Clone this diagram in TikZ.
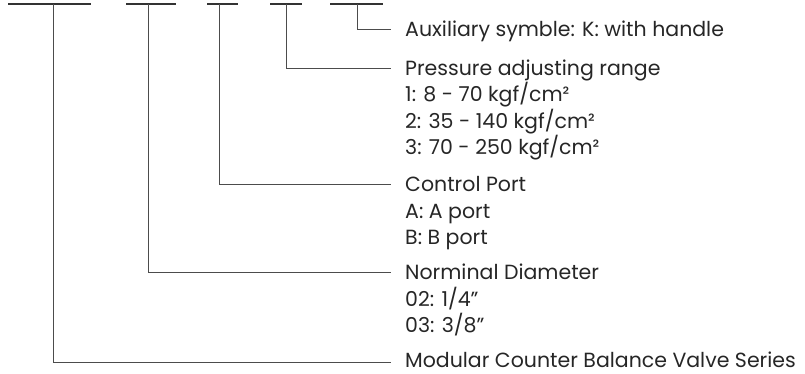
\documentclass[tikz,border=0pt]{standalone}
\usepackage{fontspec}
\setmainfont{Poppins}
\begin{document}
\begin{tikzpicture}[x=1pt,y=-1pt,
  bar/.style={draw=black!80, line width=1.6pt},
  leader/.style={draw=black!70, line width=0.9pt},
  lbl/.style={anchor=base west, inner sep=0pt, text=black!85, font=\fontsize{20.5}{20.5}\selectfont}]
\useasboundingbox (0,0) rectangle (805,374);
% code bars
\draw[bar] (8,4) -- (91,4);
\draw[bar] (126,4) -- (176,4);
\draw[bar] (207,4) -- (238,4);
\draw[bar] (270,4) -- (302,4);
\draw[bar] (330,4) -- (383,4);
% stem tops
\coordinate (s1) at (53,4);
\coordinate (s2) at (148,4);
\coordinate (s3) at (219,4);
\coordinate (s4) at (286,4);
\coordinate (s5) at (357,4);
% leader ends
\coordinate (e5) at (391,29);
\coordinate (e4) at (391,68);
\coordinate (e3) at (391,184);
\coordinate (e2) at (391,272);
\coordinate (e1) at (391,362);
% labels
\node[lbl] (t5) at (405,36.5) {Auxiliary symble: K: with handle};
\node[lbl] (t4) at (405,75.5) {Pressure adjusting range};
\node[lbl] (t4a) at (405,102) {1: 8 - 70 kgf/cm²};
\node[lbl] (t4b) at (405,128.5) {2: 35 - 140 kgf/cm²};
\node[lbl] (t4c) at (405,155) {3: 70 - 250 kgf/cm²};
\node[lbl] (t3) at (405,191.5) {Control Port};
\node[lbl] (t3a) at (405,218) {A: A port};
\node[lbl] (t3b) at (405,244.5) {B: B port};
\node[lbl] (t2) at (405,279.5) {Norminal Diameter};
\node[lbl] (t2a) at (405,306) {02: 1/4"};
\node[lbl] (t2b) at (405,332.5) {03: 3/8"};
\node[lbl, text depth=0pt] (t1) at (405,367.5) {Modular Counter Balance Valve Series};
% leaders
\draw[leader] (s5) |- (e5);
\draw[leader] (s4) |- (e4);
\draw[leader] (s3) |- (e3);
\draw[leader] (s2) |- (e2);
\draw[leader] (s1) |- (e1);
\end{tikzpicture}
\end{document}
